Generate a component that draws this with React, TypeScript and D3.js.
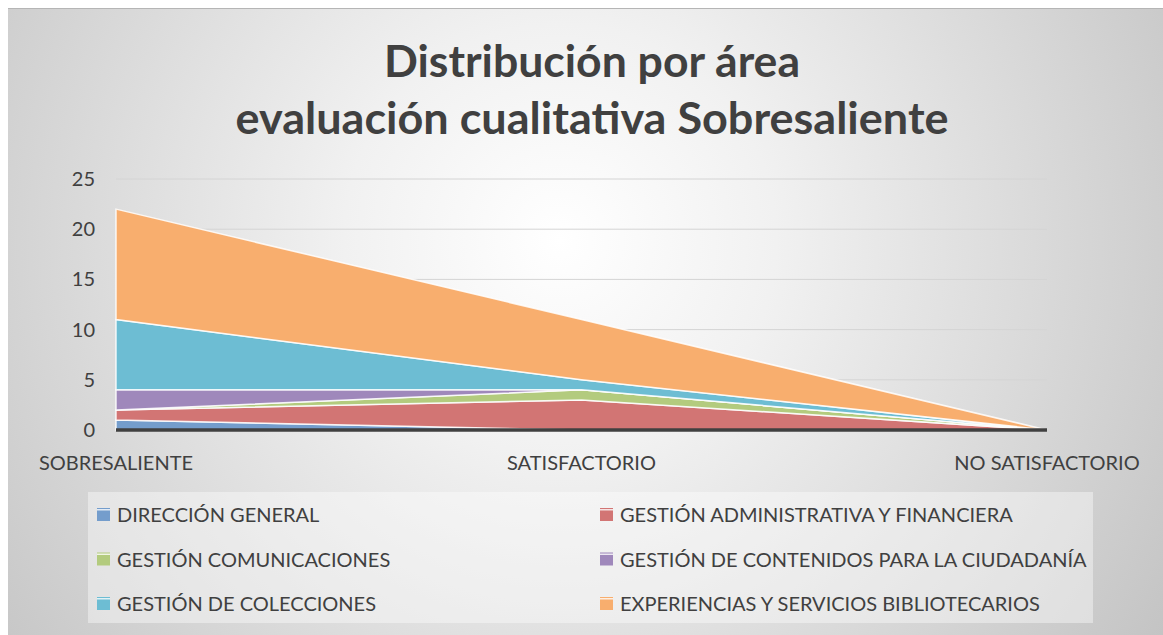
import React, { useEffect, useRef } from "react"
import * as d3 from "d3"

const categories = ["SOBRESALIENTE", "SATISFACTORIO", "NO SATISFACTORIO"]
const seriesNames = [
  "DIRECCIÓN GENERAL",
  "GESTIÓN ADMINISTRATIVA Y FINANCIERA",
  "GESTIÓN COMUNICACIONES",
  "GESTIÓN DE CONTENIDOS PARA LA CIUDADANÍA",
  "GESTIÓN DE COLECCIONES",
  "EXPERIENCIAS Y SERVICIOS BIBLIOTECARIOS",
]
const direccion = [1, 0, 0]
const administrativa = [1, 3, 0]
const comunicaciones = [0, 1, 0]
const contenidos = [2, 0, 0]
const colecciones = [7, 1, 0]
const experiencias = [11, 6, 0]
const yTicks = [0, 5, 10, 15, 20, 25]
const colors = ["#749dcc", "#d27574", "#b3cb7e", "#9f88bb", "#6dbdd3", "#f8ae6e"]
const titleLines = ["Distribución por área", "evaluación cualitativa Sobresaliente"]

const FONT = "Lato, 'Open Sans', sans-serif"

export default function App() {
  const ref = useRef<SVGSVGElement>(null)

  useEffect(() => {
    const svg = d3.select(ref.current)
    svg.selectAll("*").remove()

    const W = 1163
    const H = 635
    const left = 116
    const right = 1047
    const top = 179
    const bottom = 430

    const defs = svg.append("defs")
    const grad = defs
      .append("radialGradient")
      .attr("id", "bg")
      .attr("gradientUnits", "userSpaceOnUse")
      .attr("cx", 560)
      .attr("cy", 240)
      .attr("r", 720)
    grad.append("stop").attr("offset", 0).attr("stop-color", "#ffffff")
    grad.append("stop").attr("offset", 0.3).attr("stop-color", "#f1f1f1")
    grad.append("stop").attr("offset", 1).attr("stop-color", "#c4c4c4")

    const mk = defs
      .append("linearGradient")
      .attr("id", "mk")
      .attr("x1", 0)
      .attr("y1", 0)
      .attr("x2", 0)
      .attr("y2", 1)

    svg.append("rect").attr("width", W).attr("height", H).attr("fill", "#ffffff")
    svg
      .append("rect")
      .attr("x", 8)
      .attr("y", 8)
      .attr("width", W - 8)
      .attr("height", H - 8)
      .attr("fill", "url(#bg)")
    svg
      .append("line")
      .attr("x1", 8)
      .attr("x2", W)
      .attr("y1", 8.5)
      .attr("y2", 8.5)
      .attr("stroke", "#b5b5b5")

    // title
    svg
      .append("g")
      .selectAll("text")
      .data(titleLines)
      .enter()
      .append("text")
      .attr("x", 592)
      .attr("y", (d, i) => 77 + i * 57)
      .attr("text-anchor", "middle")
      .attr("font-family", FONT)
      .attr("font-weight", "bold")
      .attr("font-size", 44)
      .attr("fill", "#404040")
      .attr("textLength", (d, i) => (i === 0 ? 416 : 713))
      .attr("lengthAdjust", "spacingAndGlyphs")
      .text(d => d)

    const x = d3.scalePoint().domain(categories).range([left, right])
    const y = d3.scaleLinear().domain([0, 25]).range([bottom, top])

    // grid
    svg
      .append("g")
      .selectAll("line")
      .data(yTicks)
      .enter()
      .append("line")
      .attr("x1", left)
      .attr("x2", right)
      .attr("y1", d => y(d))
      .attr("y2", d => y(d))
      .attr("stroke", "#d4d4d4")
      .attr("stroke-width", 1)

    svg
      .append("g")
      .selectAll("text")
      .data(yTicks)
      .enter()
      .append("text")
      .attr("x", 95)
      .attr("y", d => y(d) + 7)
      .attr("text-anchor", "end")
      .attr("font-family", FONT)
      .attr("font-size", 20)
      .attr("fill", "#404040")
      .text(d => d)

    const table = categories.map((c, i) => {
      const row: any = { cat: c }
      row[seriesNames[0]] = direccion[i]
      row[seriesNames[1]] = administrativa[i]
      row[seriesNames[2]] = comunicaciones[i]
      row[seriesNames[3]] = contenidos[i]
      row[seriesNames[4]] = colecciones[i]
      row[seriesNames[5]] = experiencias[i]
      return row
    })
    const stacked = d3.stack().keys(seriesNames)(table)
    const area = d3
      .area<any>()
      .x(d => x(d.data.cat) as number)
      .y0(d => y(d[0]))
      .y1(d => y(d[1]))

    svg
      .append("g")
      .selectAll("path")
      .data(stacked)
      .enter()
      .append("path")
      .attr("d", area)
      .attr("fill", (d, i) => colors[i])
      .attr("stroke", "#ffffff")
      .attr("stroke-opacity", 0.85)
      .attr("stroke-width", 1.5)

    // axis line
    svg
      .append("line")
      .attr("x1", left)
      .attr("x2", right)
      .attr("y1", bottom)
      .attr("y2", bottom)
      .attr("stroke", "#404040")
      .attr("stroke-width", 3.5)

    svg
      .append("g")
      .selectAll("text")
      .data(categories)
      .enter()
      .append("text")
      .attr("x", d => x(d) as number)
      .attr("y", 470)
      .attr("text-anchor", "middle")
      .attr("font-family", FONT)
      .attr("font-size", 20)
      .attr("fill", "#404040")
      .text(d => d)

    // legend
    svg
      .append("rect")
      .attr("x", 88)
      .attr("y", 492)
      .attr("width", 1005)
      .attr("height", 131)
      .attr("fill", "#ffffff")
      .attr("fill-opacity", 0.4)

    const items = svg
      .append("g")
      .selectAll("g")
      .data(seriesNames)
      .enter()
      .append("g")
      .attr("transform", (d, i) => `translate(${i % 2 === 0 ? 97 : 600},${514 + Math.floor(i / 2) * 44.5})`)
    items
      .append("rect")
      .attr("x", 0)
      .attr("y", -6)
      .attr("width", 13)
      .attr("height", 13)
      .attr("fill", (d, i) => colors[i])
    items
      .append("rect")
      .attr("x", 0)
      .attr("y", -5)
      .attr("width", 13)
      .attr("height", 1.5)
      .attr("fill", "#ffffff")
      .attr("fill-opacity", 0.8)
    items
      .append("text")
      .attr("x", 20)
      .attr("y", 8)
      .attr("font-family", FONT)
      .attr("font-size", 20)
      .attr("fill", "#404040")
      .text(d => d)
  }, [])

  return (
    <svg
      ref={ref}
      width={1163}
      height={635}
      style={{ position: "absolute", left: 0, top: 0 }}
    />
  )
}
